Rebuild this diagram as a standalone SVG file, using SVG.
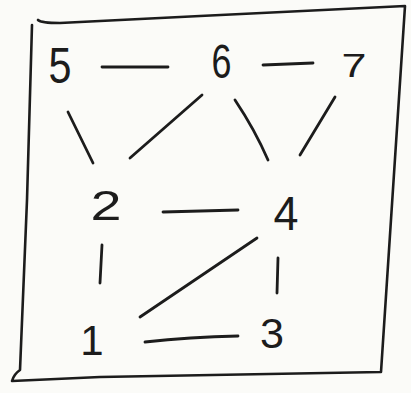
<svg xmlns="http://www.w3.org/2000/svg" width="411" height="393" viewBox="0 0 411 393">
<style>
.frame{fill:none;stroke:#1c1c1c;stroke-width:2.6;stroke-linecap:round;stroke-linejoin:round}
.edge{fill:none;stroke:#1c1c1c;stroke-width:2.8;stroke-linecap:round}
.lbl{font-family:"Liberation Sans",Arial,sans-serif;fill:#1c1c1c;text-anchor:middle}
</style>
<rect width="411" height="393" fill="#fbfbf8"/>
<path class="frame" d="M38,20 Q41,23 60,23 L200,16 L405,6 L381,372 L100,377 L12,381 Q14,374 20,370 L27,200 L32,25"/>
<g id="connectors">
<path class="edge" d="M102,67 L168,67"/>
<path class="edge" d="M263,65 L313,63"/>
<path class="edge" d="M68,112 L93,163"/>
<path class="edge" d="M202,95 L130,158"/>
<path class="edge" d="M235,100 Q255,130 268,160"/>
<path class="edge" d="M335,97 L300,155"/>
<path class="edge" d="M163,212 L238,210"/>
<path class="edge" d="M102,245 L100,283"/>
<path class="edge" d="M278,258 L277,293"/>
<path class="edge" d="M257,238 L140,317"/>
<path class="edge" d="M145,342 Q190,337 238,336"/>
</g>
<g id="n5"><text class="lbl" x="60" y="83" font-size="50" textLength="23" lengthAdjust="spacingAndGlyphs">5</text></g>
<g id="n6"><text class="lbl" x="221.5" y="78" font-size="49" textLength="20" lengthAdjust="spacingAndGlyphs">6</text></g>
<g id="n7"><text class="lbl" x="354" y="77" font-size="34" textLength="25" lengthAdjust="spacingAndGlyphs">7</text></g>
<g id="n2"><text class="lbl" x="106" y="220" font-size="42" textLength="31" lengthAdjust="spacingAndGlyphs">2</text></g>
<g id="n4"><text class="lbl" x="286" y="230" font-size="49" textLength="25" lengthAdjust="spacingAndGlyphs">4</text></g>
<g id="n1"><text class="lbl" x="92" y="355" font-size="42">1</text></g>
<g id="n3"><text class="lbl" x="272" y="348" font-size="43" textLength="24" lengthAdjust="spacingAndGlyphs">3</text></g>
</svg>
